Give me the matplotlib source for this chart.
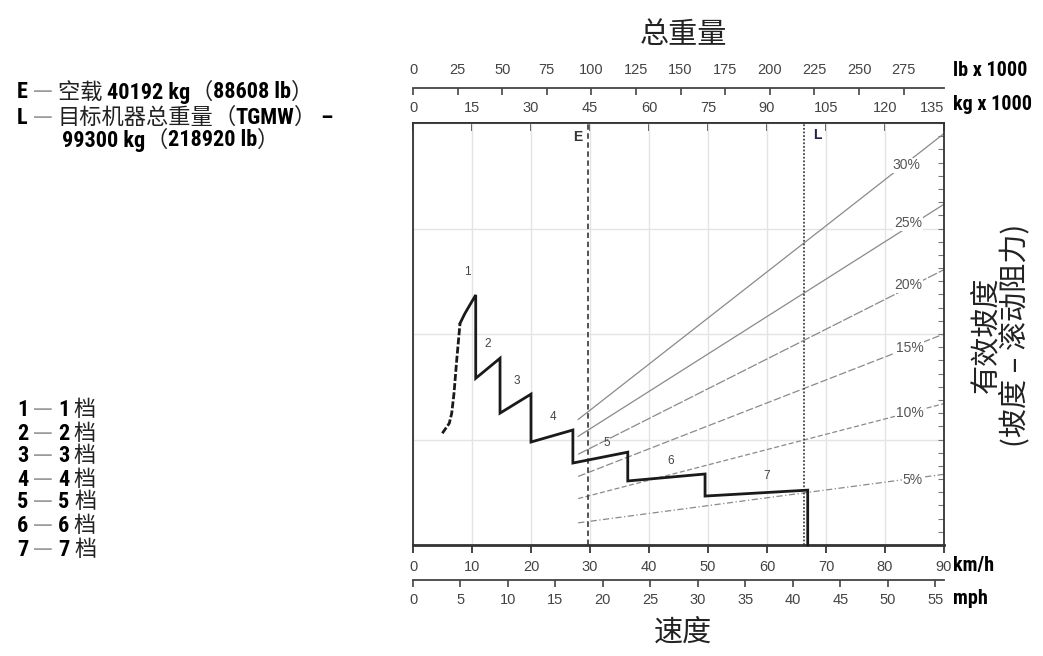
import matplotlib
matplotlib.use("Agg")
import matplotlib.pyplot as plt
from matplotlib.ticker import MultipleLocator
from matplotlib.offsetbox import TextArea, HPacker, AnnotationBbox

W, H = 1043, 656

# rimpull curve: speed (km/h) vs pull in chart units (box is 0..40)
# first gear rising part is drawn dashed in the source
gear1_speed = [4.97, 6.15, 6.56, 6.95, 7.41, 7.97]
gear1_pull = [10.59, 11.54, 12.48, 14.38, 17.54, 21.01]
curve_speed = [7.97, 8.81, 10.63, 10.63,
               14.75, 14.75, 20.0, 20.0, 27.1, 27.1, 36.4, 36.4, 49.5, 49.5,
               66.9, 66.9]
curve_pull = [21.01, 21.96, 23.7, 15.8,
              17.7, 12.5, 14.3, 9.76, 10.9, 7.77, 8.8, 6.07, 6.73, 4.64,
              5.2, 0.0]

gear_names = ["1", "2", "3", "4", "5", "6", "7"]
gear_label_speed = [9.15, 12.7, 17.6, 23.7, 32.9, 43.6, 60.0]
gear_label_pull = [25.9, 19.05, 15.5, 12.1, 9.67, 7.96, 6.54]

# effective grade lines
grade_names = ["30%", "25%", "20%", "15%", "10%", "5%"]
grade_speed_range = [28.0, 90.0]
grade_start_pull = [11.9, 10.3, 8.6, 6.5, 4.4, 2.1]
grade_end_pull = [39.0, 32.3, 26.1, 20.0, 13.4, 6.7]
grade_label_speed = [83.7, 83.9, 83.9, 84.2, 84.2, 84.7]
grade_label_pull = [36.0, 30.5, 24.6, 18.7, 12.5, 6.2]
grade_styles = ["-", "-", (0, (8, 1.5)), (0, (6, 2)), (0, (4, 2)), (0, (5, 2, 1, 2))]

# E / L weight lines, kg x 1000 as drawn on the chart
empty_kg = 44.5
target_kg = 99.5

kmh_ticks = list(range(0, 91, 10))
mph_ticks = list(range(0, 56, 5))
kg_ticks = list(range(0, 136, 15))
lb_ticks = list(range(0, 276, 25))

CJK = ["Noto Sans CJK SC", "DejaVu Sans"]
COND = ["Roboto Condensed", "Liberation Sans"]
SANS = ["Liberation Sans", "DejaVu Sans"]


def kmh_to_kg(v):
    return v * 1.5


def kg_to_kmh(v):
    return v / 1.5


def kmh_to_lb(v):
    return v * 1.5 / 0.45359237


def lb_to_kmh(v):
    return v * 0.45359237 / 1.5


def kmh_to_mph(v):
    return v / 1.609344


def mph_to_kmh(v):
    return v * 1.609344


def fx(px):
    return px / W


def fy(py):
    return 1 - py / H


def rich_line(fig, x, y, parts, size_lat=16, size_cjk=16):
    boxes = []
    for text, kind in parts:
        if kind == "b":
            props = dict(fontfamily=COND, fontweight="bold", fontstretch="condensed",
                         fontsize=size_lat, color="black")
        elif kind == "g":
            props = dict(fontfamily=CJK, fontsize=size_cjk, color="#9a9a9a")
        else:
            props = dict(fontfamily=CJK, fontsize=size_cjk, color="#222222")
        boxes.append(TextArea(text, textprops=props))
    pack = HPacker(children=boxes, align="baseline", pad=0, sep=0)
    ab = AnnotationBbox(pack, (fx(x), fy(y)), xycoords="figure fraction",
                        box_alignment=(0, 0.5), frameon=False, pad=0)
    fig.add_artist(ab)


fig = plt.figure(figsize=(W / 100, H / 100), dpi=100)
ax = fig.add_axes([fx(413), fy(545), 531 / W, 422 / H])
ax.set_xlim(0, 90)
ax.set_ylim(0, 40)

for side in ["top", "left", "right"]:
    ax.spines[side].set_linewidth(1.3)
    ax.spines[side].set_color("#333333")
ax.spines["bottom"].set_linewidth(2.0)
ax.spines["bottom"].set_color("#333333")

ax.set_xticks(kmh_ticks)
ax.tick_params(axis="x", direction="out", length=6, width=1.4, pad=5,
               labelsize=10.5, colors="#444444", labelfontfamily=SANS)
ax.yaxis.tick_right()
ax.yaxis.set_major_locator(MultipleLocator(10))
ax.yaxis.set_minor_locator(MultipleLocator(1.25))
ax.tick_params(axis="y", which="both", direction="in", length=4, width=0.8,
               colors="#777777", labelright=False)
ax.grid(which="major", color="#e4e4e4", lw=1.0, zorder=0)
ax.set_axisbelow(True)

# top weight scales
kg_ax = ax.secondary_xaxis("top", functions=(kmh_to_kg, kg_to_kmh))
kg_ax.set_xticks(kg_ticks)
kg_ax.tick_params(direction="in", length=6, width=1.4, pad=6, labelsize=10.5,
                  colors="#444444", labelfontfamily=SANS)
kg_ax.spines["top"].set_linewidth(1.3)
kg_ax.spines["top"].set_color("#333333")
kg_ax.get_xticklabels()[-1].set_horizontalalignment("right")

lb_ax = ax.secondary_xaxis((545 - 88) / 422, functions=(kmh_to_lb, lb_to_kmh))
lb_ax.set_xticks(lb_ticks)
lb_ax.tick_params(direction="in", length=5, width=1.2, pad=8, labelsize=10.5,
                  colors="#444444", labelfontfamily=SANS)
lb_ax.spines["top"].set_linewidth(1.3)
lb_ax.spines["top"].set_color("#444444")

mph_ax = ax.secondary_xaxis(-(580 - 545) / 422, functions=(kmh_to_mph, mph_to_kmh))
mph_ax.set_xticks(mph_ticks)
mph_ax.tick_params(direction="out", length=5, width=1.2, pad=4, labelsize=10.5,
                   colors="#444444", labelfontfamily=SANS)
mph_ax.spines["bottom"].set_linewidth(1.3)
mph_ax.spines["bottom"].set_color("#444444")

# grade lines
for name, p0, p1, lx, ly, ls in zip(grade_names, grade_start_pull, grade_end_pull,
                                    grade_label_speed, grade_label_pull, grade_styles):
    ax.plot(grade_speed_range, [p0, p1], color="#8a8a8a", lw=0.9, ls=ls, zorder=2)
    ax.text(lx, ly, name, ha="center", va="center", fontsize=10, color="#555555",
            family=SANS, zorder=4,
            bbox=dict(boxstyle="square,pad=0.05", fc="white", ec="none"))

# E and L lines
ax.axvline(kg_to_kmh(empty_kg), color="#444444", lw=1.3, ls=(0, (3, 2)), zorder=2.5)
ax.axvline(kg_to_kmh(target_kg), color="#444444", lw=1.3, ls=(0, (1, 1)), zorder=2.5)
ax.text(kg_to_kmh(empty_kg) - 0.9, 38.7, "E", ha="right", va="center",
        fontsize=10, fontweight="bold", color="#333333", family=SANS)
ax.text(kg_to_kmh(target_kg) + 1.4, 38.9, "L", ha="left", va="center",
        fontsize=10, fontweight="bold", color="#222244", family=SANS)

# rimpull curve
ax.plot(gear1_speed, gear1_pull, color="#1a1a1a", lw=2.0, zorder=3,
        ls=(0, (2.5, 0.8)))
ax.plot(curve_speed, curve_pull, color="#1a1a1a", lw=2.0, zorder=3,
        solid_joinstyle="miter", clip_on=False)
for name, gx, gy in zip(gear_names, gear_label_speed, gear_label_pull):
    ax.text(gx, gy, name, ha="center", va="center", fontsize=8.5,
            color="#444444", family=SANS, zorder=4)

# titles
fig.text(fx(683), fy(35), "总重量", ha="center", va="center", fontsize=21,
         family=CJK, color="#222222")
fig.text(fx(683), fy(633), "速度", ha="center", va="center", fontsize=21,
         family=CJK, color="#222222")
fig.text(fx(986), fy(335), "有效坡度", ha="center", va="center", fontsize=21,
         family=CJK, rotation=90, color="#222222")
fig.text(fx(1015), fy(335), "(坡度 – 滚动阻力)", ha="center", va="center",
         fontsize=21, family=CJK, rotation=90, color="#222222")

# axis unit labels
for label, py in [("lb x 1000", 71), ("kg x 1000", 105), ("km/h", 565), ("mph", 599)]:
    fig.text(fx(953), fy(py), label, ha="left", va="center", fontsize=14.5,
             fontweight="bold", fontstretch="condensed", family=COND, color="black")

# key text
rich_line(fig, 17, 92, [("E", "b"), (" — ", "g"), ("空载 ", "c"), ("40192 kg", "b"),
                        ("（", "c"), ("88608 lb", "b"), ("）", "c")])
rich_line(fig, 17, 117, [("L", "b"), (" — ", "g"), ("目标机器总重量", "c"), ("（", "c"),
                         ("TGMW", "b"), ("）", "c"), (" –", "b")])
rich_line(fig, 62, 140, [("99300 kg", "b"), ("（", "c"), ("218920 lb", "b"), ("）", "c")])

gear_key_y = [410, 433, 456, 479, 502, 525, 550]
for name, gy in zip(gear_names, gear_key_y):
    rich_line(fig, 17, gy, [(name, "b"), (" — ", "g"), (name, "b"), (" 档", "c")])

fig.savefig("out.png", dpi=100)
